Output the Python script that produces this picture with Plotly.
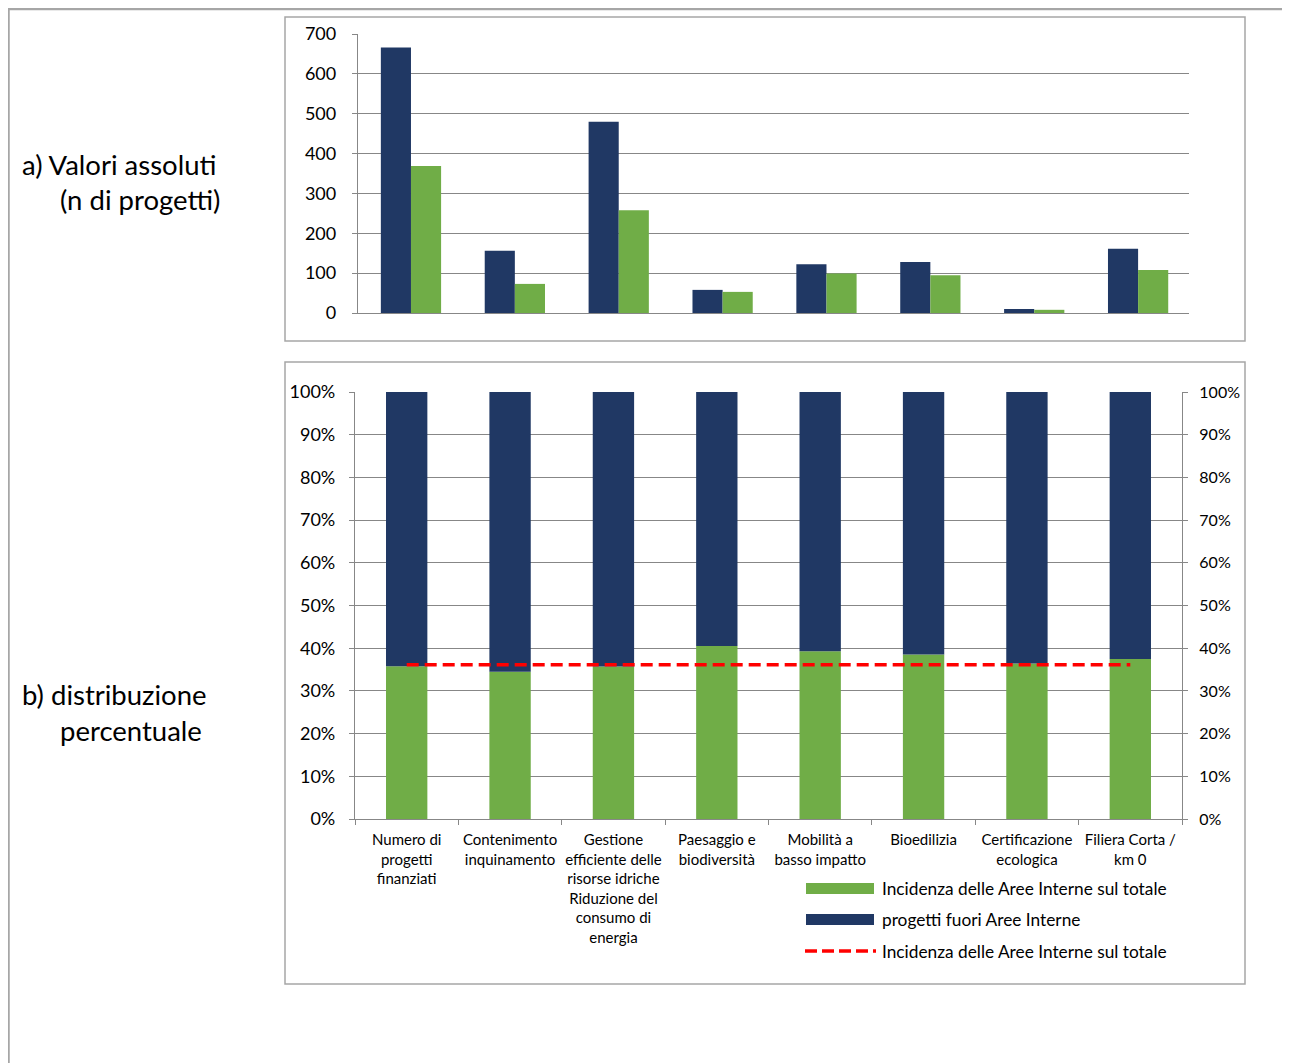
import plotly.graph_objects as go

# ---------------- data ----------------
categories = [
    "Numero di progetti finanziati",
    "Contenimento inquinamento",
    "Gestione efficiente delle risorse idriche Riduzione del consumo di energia",
    "Paesaggio e biodiversità",
    "Mobilità a basso impatto",
    "Bioedilizia",
    "Certificazione ecologica",
    "Filiera Corta / km 0",
]
tick_labels = [
    "Numero di<br>progetti<br>finanziati",
    "Contenimento<br>inquinamento",
    "Gestione<br>efficiente delle<br>risorse idriche<br>Riduzione del<br>consumo di<br>energia",
    "Paesaggio e<br>biodiversità",
    "Mobilità a<br>basso impatto",
    "Bioedilizia",
    "Certificazione<br>ecologica",
    "Filiera Corta /<br>km 0",
]
# a) absolute values (number of projects)
fuori_abs = [666, 156, 480, 58, 122, 128, 10, 161]
interne_abs = [369, 73, 258, 53, 99, 95, 8, 108]
# b) percentage distribution
interne_pct = [35.8, 34.5, 35.7, 40.5, 39.3, 38.5, 36.4, 37.5]
fuori_pct = [64.2, 65.5, 64.3, 59.5, 60.7, 61.5, 63.6, 62.5]
incidenza_totale = [36.1, 36.1, 36.1, 36.1, 36.1, 36.1, 36.1, 36.1]

NAVY = "#203864"
GREEN = "#70AD47"
RED = "#FF0000"
GRID = "#878787"
FRAME = "#A6A6A6"
FONT = "Lato"

W, H = 1290, 1063
OFF = 8  # page body margin

def px(x):
    return (x - OFF) / W

def py(y):
    return 1 - (y - OFF) / H

fig = go.Figure()

# top chart: grouped bars
fig.add_trace(go.Bar(x=categories, y=fuori_abs, name="progetti fuori Aree Interne",
                     marker=dict(color=NAVY, line=dict(width=0)),
                     width=0.29, offset=-0.28, xaxis="x", yaxis="y", showlegend=False))
fig.add_trace(go.Bar(x=categories, y=interne_abs, name="progetti in Aree Interne",
                     marker=dict(color=GREEN, line=dict(width=0)),
                     width=0.29, offset=0.01, xaxis="x", yaxis="y", showlegend=False))

# bottom chart: stacked 100% bars
fig.add_trace(go.Bar(x=categories, y=interne_pct, name="Incidenza delle Aree Interne sul totale",
                     marker=dict(color=GREEN, line=dict(width=0)),
                     width=0.40, offset=-0.20, xaxis="x2", yaxis="y2", showlegend=False))
fig.add_trace(go.Bar(x=categories, y=fuori_pct, base=interne_pct, name="progetti fuori Aree Interne",
                     marker=dict(color=NAVY, line=dict(width=0)),
                     width=0.40, offset=-0.20, xaxis="x2", yaxis="y2", showlegend=False))
fig.add_trace(go.Scatter(x=categories, y=incidenza_totale, mode="lines",
                         name="Incidenza delle Aree Interne sul totale",
                         line=dict(color=RED, width=3.5, dash="12px,6px"),
                         xaxis="x2", yaxis="y3", showlegend=False))

axis_common = dict(linecolor=GRID, linewidth=1.3, tickcolor=GRID, tickwidth=1.3,
                   automargin=False)

fig.update_layout(
    width=W, height=H,
    margin=dict(l=0, r=0, t=0, b=0, autoexpand=False),
    paper_bgcolor="white", plot_bgcolor="white",
    barmode="overlay",
    font=dict(family=FONT, color="#000000"),
    showlegend=False,
    xaxis=dict(domain=[px(358), px(1189)], anchor="y", type="category",
               categoryorder="array", categoryarray=categories,
               range=[-0.5, 7.5], showticklabels=False, ticks="",
               showline=True, showgrid=False, zeroline=False, **axis_common),
    yaxis=dict(domain=[py(313), py(34)], anchor="x", range=[0, 700], dtick=100,
               showgrid=True, gridcolor=GRID, gridwidth=1.3, zeroline=False,
               showline=True, ticks="outside", ticklen=5,
               tickfont=dict(size=18, family=FONT), ticklabelstandoff=12, **axis_common),
    xaxis2=dict(domain=[px(355), px(1182)], anchor="y2", type="category",
                categoryorder="array", categoryarray=categories,
                range=[-0.5, 7.5], tickvals=categories, ticktext=tick_labels,
                tickson="boundaries", ticks="outside", ticklen=5, tickangle=0,
                showline=True, showgrid=False, zeroline=False,
                tickfont=dict(size=15, family=FONT), ticklabelstandoff=7, **axis_common),
    yaxis2=dict(domain=[py(819), py(392)], anchor="x2", range=[0, 100], dtick=10,
                ticksuffix="%", showgrid=True, gridcolor=GRID, gridwidth=1.3, zeroline=False,
                showline=True, ticks="outside", ticklen=5,
                tickfont=dict(size=18, family=FONT), ticklabelstandoff=10, **axis_common),
    yaxis3=dict(overlaying="y2", anchor="x2", side="right", range=[0, 100], dtick=10,
                ticksuffix="%", showgrid=False, zeroline=False,
                showline=True, ticks="outside", ticklen=5,
                tickfont=dict(size=16, family=FONT), ticklabelstandoff=8, **axis_common),
)

shapes = []
# outer frame (top and left edges)
shapes.append(dict(type="path", xref="paper", yref="paper",
                   path=f"M {px(8.5)},{py(1080)} L {px(8.5)},{py(9)} L {px(1300)},{py(9)}",
                   line=dict(color=FRAME, width=2.5)))
# chart boxes
shapes.append(dict(type="rect", xref="paper", yref="paper",
                   x0=px(285), x1=px(1245), y0=py(341), y1=py(17),
                   line=dict(color=FRAME, width=1.5), fillcolor="rgba(0,0,0,0)", layer="below"))
shapes.append(dict(type="rect", xref="paper", yref="paper",
                   x0=px(285), x1=px(1245), y0=py(984), y1=py(362),
                   line=dict(color=FRAME, width=1.5), fillcolor="rgba(0,0,0,0)", layer="below"))
# legend symbols
shapes.append(dict(type="rect", xref="paper", yref="paper",
                   x0=px(806), x1=px(874), y0=py(894), y1=py(883),
                   line=dict(width=0), fillcolor=GREEN))
shapes.append(dict(type="rect", xref="paper", yref="paper",
                   x0=px(806), x1=px(874), y0=py(925), y1=py(914),
                   line=dict(width=0), fillcolor=NAVY))
shapes.append(dict(type="line", xref="paper", yref="paper",
                   x0=px(805), x1=px(876), y0=py(951), y1=py(951),
                   line=dict(color=RED, width=3.5, dash="12px,5px")))
fig.update_layout(shapes=shapes)

ann = []
legend_texts = ["Incidenza delle Aree Interne sul totale",
                "progetti fuori Aree Interne",
                "Incidenza delle Aree Interne sul totale"]
for t, yy in zip(legend_texts, [888.5, 919.5, 951]):
    ann.append(dict(text=t, x=px(880), y=py(yy), xref="paper", yref="paper",
                    xanchor="left", yanchor="middle", showarrow=False,
                    font=dict(size=17.3, family=FONT, color="#000000")))
side_labels = [("a) Valori assoluti", 20, 164), ("(n di progetti)", 58, 200),
               ("b) distribuzione", 20, 694), ("percentuale", 58, 730)]
for t, xx, yy in side_labels:
    ann.append(dict(text=t, x=px(xx), y=py(yy), xref="paper", yref="paper",
                    xanchor="left", yanchor="middle", showarrow=False,
                    font=dict(size=27.5, family=FONT, color="#000000")))
fig.update_layout(annotations=ann)

fig.write_html("out.html")
